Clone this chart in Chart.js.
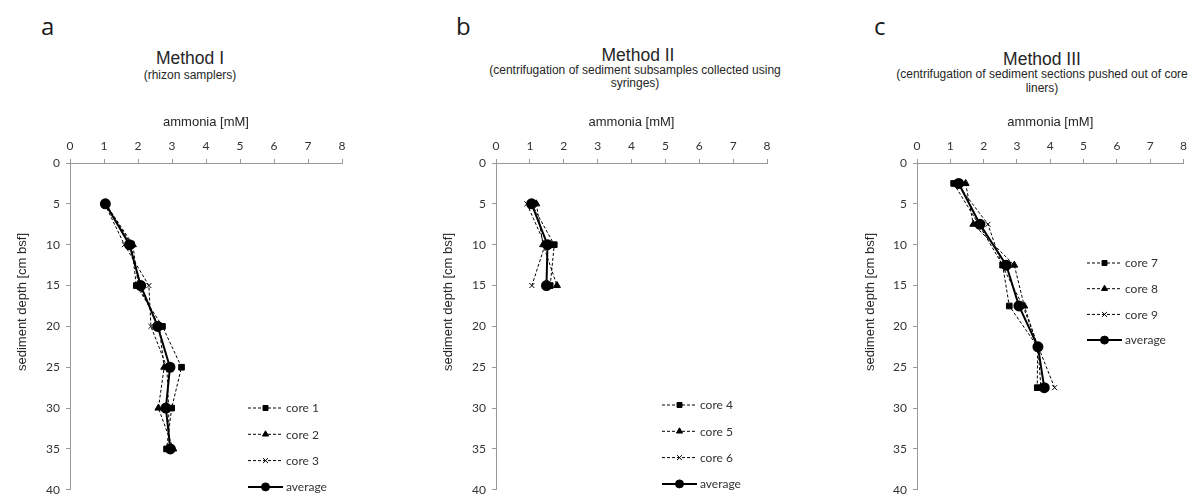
<!DOCTYPE html>
<html>
<head>
<meta charset="utf-8">
<script src="https://cdn.jsdelivr.net/npm/chart.js@4/dist/chart.umd.min.js"></script>
<style>
    html, body { margin: 0; padding: 0; background: #fff; }
    body { width: 1193px; height: 503px; position: relative; overflow: hidden; }
    canvas { position: absolute; top: 0; }
    .lbl { position: absolute; font-family: 'Open Sans', sans-serif; font-size: 24px; line-height: 24px; color: #1a1a1a; }
    .ttl { position: absolute; width: 400px; text-align: center; font-family: 'Liberation Sans', Arial, sans-serif; color: #262626; white-space: nowrap; }
    .ttl.big { font-size: 17.5px; line-height: 17.5px; }
    .ttl.sub { font-size: 12px; line-height: 13.5px; }
    .ytitle { position: absolute; width: 200px; height: 16px; text-align: center; font-family: 'Liberation Sans', Arial, sans-serif;
              font-size: 13px; line-height: 16px; color: #262626; white-space: nowrap; transform: rotate(-90deg); transform-origin: 50% 50%; }
</style>
</head>
<body>
<div class="lbl" style="left:41px;top:14px">a</div>
<div class="lbl" style="left:456px;top:14px">b</div>
<div class="lbl" style="left:874px;top:14px">c</div>

<div class="ttl big" style="left:-10px;top:49.5px">Method I</div>
<div class="ttl sub" style="left:-10px;top:69px">(rhizon samplers)</div>

<div class="ttl big" style="left:438px;top:47px">Method II</div>
<div class="ttl sub" style="left:435px;top:63.5px">(centrifugation of sediment subsamples collected using<br>syringes)</div>

<div class="ttl big" style="left:842px;top:51px">Method III</div>
<div class="ttl sub" style="left:842px;top:68px">(centrifugation of sediment sections pushed out of core<br>liners)</div>

<canvas id="chartA" width="400" height="503" style="left:0px"></canvas>
<canvas id="chartB" width="400" height="503" style="left:426px"></canvas>
<canvas id="chartC" width="346" height="503" style="left:847px"></canvas>

<div class="ytitle" id="ytA" style="left:-78.5px;top:294px"></div>
<div class="ytitle" id="ytB" style="left:347.5px;top:294px"></div>
<div class="ytitle" id="ytC" style="left:769.5px;top:294px"></div>

<script>
// Ammonia-profielen per methode: ammonia [mM] tegen diepte [cm bsf]

// Method I (rhizon samplers)
const DEPTH_A = [5, 10, 15, 20, 25, 30, 35];
const CORE1 = [1.05, 1.81, 1.95, 2.72, 3.28, 2.99, 2.84];
const CORE2 = [1.05, 1.85, 2.01, 2.62, 2.77, 2.60, 3.04];
const CORE3 = [1.02, 1.60, 2.32, 2.38, 2.85, 2.90, 2.92];
const AVG_A = [1.04, 1.75, 2.08, 2.58, 2.94, 2.82, 2.95];

// Method II (syringes)
const DEPTH_B = [5, 10, 15];
const CORE4 = [1.05, 1.72, 1.60];
const CORE5 = [1.19, 1.39, 1.80];
const CORE6 = [0.91, 1.45, 1.06];
const AVG_B = [1.05, 1.52, 1.49];

// Method III (secties uit core liners)
const DEPTH_C = [2.5, 7.5, 12.5, 17.5, 22.5, 27.5];
const CORE7 = [1.10, 1.85, 2.57, 2.77, 3.62, 3.61];
const CORE8 = [1.46, 1.69, 2.92, 3.22, 3.63, 3.72];
const CORE9 = [1.20, 2.13, 2.55, 3.18, 3.64, 4.13];
const AVG_C = [1.25, 1.89, 2.68, 3.06, 3.63, 3.82];

const X_TITLE = 'ammonia [mM]';
const Y_TITLE = 'sediment depth [cm bsf]';
const AXIS_GRAY = '#9a9a9a';
const TEXT = '#333333';
const MARKERS = ['rect', 'triangle', 'crossRot'];

// y-as titel staat in de bron hoger dan het midden van de as, dus als los tekstlabel
['ytA', 'ytB', 'ytC'].forEach(id => { document.getElementById(id).textContent = Y_TITLE; });

// legenda binnen het plotvlak, zoals in Excel
const innerLegend = {
    id: 'innerLegend',
    afterDatasetsDraw(chart, args, opts) {
        const { ctx, chartArea } = chart;
        const x0 = chartArea.left + opts.left;
        let y = chartArea.top + opts.top;
        chart.data.datasets.forEach(ds => {
            ctx.save();
            ctx.strokeStyle = ds.borderColor;
            ctx.lineWidth = ds.borderWidth;
            ctx.setLineDash(ds.borderDash || []);
            ctx.beginPath();
            ctx.moveTo(x0, y);
            ctx.lineTo(x0 + 35, y);
            ctx.stroke();
            ctx.setLineDash([]);
            ctx.fillStyle = ds.pointBackgroundColor;
            ctx.strokeStyle = ds.pointBorderColor;
            ctx.lineWidth = 1;
            Chart.helpers.drawPoint(ctx, {
                pointStyle: ds.pointStyle,
                rotation: 0,
                radius: ds.pointStyle === 'circle' ? 4 : 3.5,
                borderWidth: 1
            }, x0 + 17.5, y);
            ctx.fillStyle = TEXT;
            ctx.font = '12px Lato';
            ctx.textBaseline = 'middle';
            ctx.textAlign = 'left';
            ctx.fillText(ds.label, x0 + 38, y + 0.5);
            ctx.restore();
            y += opts.gap;
        });
    }
};

function toPoints(depths, vals) {
    return depths.map((d, i) => ({ x: vals[i], y: d }));
}

function coreSet(label, depths, vals, style) {
    return {
        label,
        data: toPoints(depths, vals),
        showLine: true,
        borderColor: '#000',
        borderWidth: 1,
        borderDash: [3, 2],
        pointStyle: style,
        pointRadius: style === 'crossRot' ? 3.5 : 4,
        pointBackgroundColor: '#000',
        pointBorderColor: '#000',
        pointBorderWidth: 1,
        order: 1
    };
}

function avgSet(depths, vals) {
    return {
        label: 'average',
        data: toPoints(depths, vals),
        showLine: true,
        borderColor: '#000',
        borderWidth: 2,
        pointStyle: 'circle',
        pointRadius: 4.5,
        pointBackgroundColor: '#000',
        pointBorderColor: '#000',
        order: 0
    };
}

function buildPanel(id, depths, cores, names, avg, legendPos, rightPad) {
    const datasets = cores.map((c, i) => coreSet(names[i], depths, c, MARKERS[i]));
    datasets.push(avgSet(depths, avg));
    const ctx = document.getElementById(id).getContext('2d');
    return new Chart(ctx, {
        type: 'scatter',
        data: { datasets },
        options: {
            responsive: false,
            animation: false,
            devicePixelRatio: 1,
            layout: { padding: { left: 0, right: rightPad, top: 115, bottom: 7 } },
            plugins: {
                legend: { display: false },
                tooltip: { enabled: false },
                innerLegend: legendPos
            },
            scales: {
                x: {
                    type: 'linear',
                    position: 'top',
                    min: 0,
                    max: 8,
                    afterFit: s => { s.height = 48; },
                    ticks: { stepSize: 1, color: TEXT, padding: 6, font: { family: 'Lato', size: 12 } },
                    grid: { drawOnChartArea: false, tickLength: 4, color: AXIS_GRAY },
                    border: { color: AXIS_GRAY },
                    title: {
                        display: true,
                        text: X_TITLE,
                        color: '#262626',
                        padding: { top: 0, bottom: 0 },
                        font: { family: 'Liberation Sans', size: 13 }
                    }
                },
                y: {
                    type: 'linear',
                    reverse: true,
                    min: 0,
                    max: 40,
                    afterFit: s => { s.width = 70; },
                    ticks: { stepSize: 5, color: TEXT, padding: 6, font: { family: 'Lato', size: 12 } },
                    grid: { drawOnChartArea: false, tickLength: 4, color: AXIS_GRAY },
                    border: { color: AXIS_GRAY }
                }
            }
        },
        plugins: [innerLegend]
    });
}

buildPanel('chartA', DEPTH_A, [CORE1, CORE2, CORE3], ['core 1', 'core 2', 'core 3'], AVG_A,
    { left: 178, top: 245, gap: 26.3 }, 58);
buildPanel('chartB', DEPTH_B, [CORE4, CORE5, CORE6], ['core 4', 'core 5', 'core 6'], AVG_B,
    { left: 166, top: 242, gap: 26.3 }, 59);
buildPanel('chartC', DEPTH_C, [CORE7, CORE8, CORE9], ['core 7', 'core 8', 'core 9'], AVG_C,
    { left: 170, top: 100, gap: 25.7 }, 4);
</script>
</body>
</html>
